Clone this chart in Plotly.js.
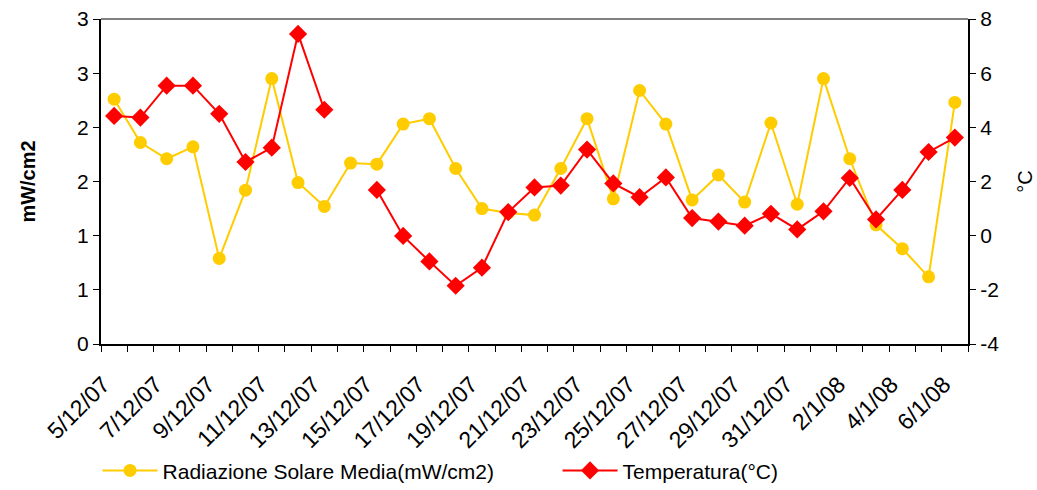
<!DOCTYPE html>
<html>
<head>
<meta charset="utf-8">
<script src="https://cdn.plot.ly/plotly-3.0.1.min.js"></script>
<style>html,body{margin:0;padding:0;background:#fff;}#chart{width:1037px;height:490px;}</style>
</head>
<body>
<div id="chart"></div>
<script>
var dates = ["5/12/07","6/12/07","7/12/07","8/12/07","9/12/07","10/12/07","11/12/07","12/12/07","13/12/07","14/12/07",
  "15/12/07","16/12/07","17/12/07","18/12/07","19/12/07","20/12/07","21/12/07","22/12/07","23/12/07","24/12/07",
  "25/12/07","26/12/07","27/12/07","28/12/07","29/12/07","30/12/07","31/12/07","1/1/08","2/1/08","3/1/08",
  "4/1/08","5/1/08","6/1/08"];
var radiazione = [2.26,1.86,1.71,1.82,0.79,1.42,2.45,1.49,1.27,1.67,
  1.66,2.03,2.08,1.62,1.25,1.21,1.19,1.62,2.08,1.34,
  2.34,2.03,1.33,1.56,1.31,2.04,1.29,2.45,1.71,1.10,
  0.88,0.62,2.23];
var temperatura = [4.42,4.36,5.54,5.54,4.50,2.72,3.25,7.45,4.65,null,
  1.69,-0.01,-0.95,-1.85,-1.18,0.87,1.78,1.85,3.18,1.93,
  1.42,2.15,0.65,0.52,0.37,0.81,0.23,0.90,2.13,0.60,
  1.69,3.09,3.62];
var leftTickVals = [0,0.5,1,1.5,2,2.5,3];
var leftTickText = ["0","1","1","2","2","3","3"];
var rightTickVals = [-4,-2,0,2,4,6,8];
var rightTickText = ["-4","-2","0","2","4","6","8"];

var xTickText = dates.map(function(d,i){ return i % 2 === 0 ? d : ""; });
var FONT = "Liberation Sans, Arial, sans-serif";

var traces = [
  {x: dates, y: radiazione, name: "Radiazione Solare Media(mW/cm2)", type: "scatter", mode: "lines+markers",
   line: {color: "#FFCC00", width: 2}, marker: {symbol: "circle", size: 13, color: "#FFCC00"}, yaxis: "y"},
  {x: dates, y: temperatura, name: "Temperatura(°C)", type: "scatter", mode: "lines+markers", connectgaps: false,
   line: {color: "#FF0000", width: 2}, marker: {symbol: "diamond", size: 14, color: "#FF0000"}, yaxis: "y2"}
];

var layout = {
  width: 1037, height: 490,
  margin: {l: 101, r: 69, t: 19, b: 146, autoexpand: false},
  paper_bgcolor: "#fff", plot_bgcolor: "#fff",
  font: {family: FONT, size: 20, color: "#000"},
  showlegend: true,
  legend: {orientation: "h", x: -0.004, xanchor: "left", y: -0.39, yanchor: "middle",
    font: {family: FONT, size: 21, color: "#000"}, entrywidth: 390, itemwidth: 55, traceorder: "normal"},
  xaxis: {type: "category", tickmode: "array", tickvals: dates, ticktext: xTickText, tickangle: -45,
    tickson: "boundaries", ticks: "outside", ticklen: 6, tickcolor: "#000", tickwidth: 1,
    showline: true, linecolor: "#000", linewidth: 2, showgrid: false, zeroline: false, automargin: false,
    ticklabelstandoff: 16, ticklabelshift: -11,
    range: [-0.5, 32.5], tickfont: {family: FONT, size: 23}},
  yaxis: {range: [0, 3], tickmode: "array", tickvals: leftTickVals, ticktext: leftTickText,
    ticks: "outside", ticklen: 6, tickcolor: "#000", showline: true, linecolor: "#000", linewidth: 2,
    showgrid: false, zeroline: false, tickfont: {family: FONT, size: 21}, automargin: false,
    title: {text: "<b>mW/cm2</b>", font: {family: FONT, size: 20}, standoff: 36}},
  yaxis2: {range: [-4, 8], tickmode: "array", tickvals: rightTickVals, ticktext: rightTickText,
    overlaying: "y", side: "right",
    ticks: "outside", ticklen: 6, tickcolor: "#000", showline: true, linecolor: "#000", linewidth: 2,
    showgrid: false, zeroline: false, tickfont: {family: FONT, size: 21}, automargin: false,
    title: {text: "°C", font: {family: FONT, size: 20}, standoff: 20}},
  shapes: [{type: "line", xref: "paper", yref: "paper", x0: 0, x1: 1, y0: 1, y1: 1,
    line: {color: "#808080", width: 2}}]
};
Plotly.newPlot("chart", traces, layout, {displayModeBar: false, staticPlot: true});
</script>
</body>
</html>
